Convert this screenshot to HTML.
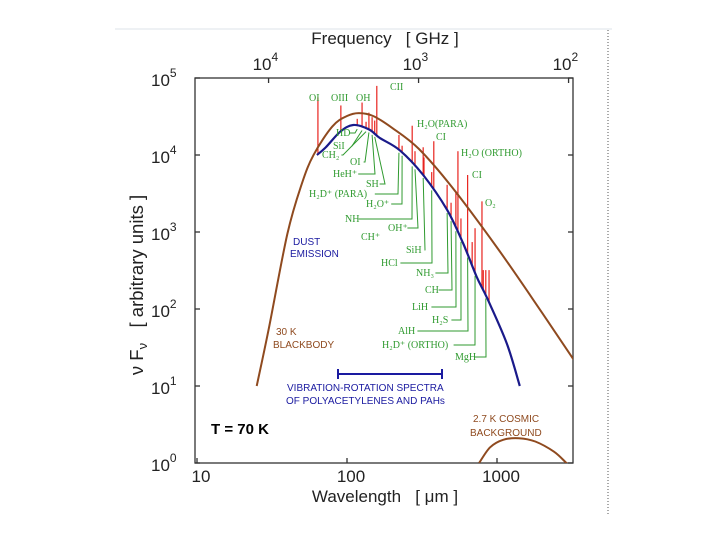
<!DOCTYPE html>
<html><head><meta charset="utf-8">
<style>
html,body{margin:0;padding:0;background:#fff;}
svg{display:block;}
text{font-family:"Liberation Sans",sans-serif;}
.g{fill:#2f9a2f;font-size:10px;font-family:"Liberation Serif",serif;}
.tk{font-size:17px;fill:#222;}
.sup{font-size:12px;}
</style></head>
<body>
<svg id="chart" width="720" height="540" viewBox="0 0 720 540" xmlns="http://www.w3.org/2000/svg">
<line x1="115" y1="29" x2="612" y2="29" stroke="#dde3e8" stroke-width="1"/>
<line x1="608" y1="30" x2="608" y2="515" stroke="#555" stroke-width="1" stroke-dasharray="1,2"/>
<g id="plot"></g>
<g id="labels"></g>
</svg>
<script>
// ---- data ----
const bbWave = [25, 30, 40, 50, 60, 80, 100, 120, 150, 200, 300, 500, 1000, 2000, 3240];
const bbValue = [10, 54, 940, 4230, 10100, 23600, 32100, 35000, 32000, 22500, 12100, 3850, 630, 89, 22];
const dustWave = [63, 72, 90, 110, 140, 166, 225, 322, 464, 593, 730, 860, 1160, 1420];
const dustValue = [10000, 12500, 20000, 24500, 21500, 16600, 11500, 5500, 1950, 720, 265, 138, 36, 10];
const cmbWave = [760, 900, 1100, 1400, 1800, 2400, 2900, 3240];
const cmbValue = [1.0, 1.6, 2.0, 2.1, 1.9, 1.4, 1.0, 0.8];
const lineWave = [64, 91, 117, 126, 134, 140, 147, 153, 158, 222, 233, 272, 284, 322, 326, 367, 379, 465, 494, 532, 549, 575, 637, 683, 714, 794, 810, 842, 885];
const lineTop = [56000, 44000, 29500, 48000, 27000, 35500, 31000, 28000, 79000, 18200, 13200, 24000, 11200, 12600, 9300, 6000, 15100, 4100, 2400, 3300, 11200, 1500, 5500, 740, 1120, 2500, 320, 320, 320];
const yTicks = [0, 1, 2, 3, 4, 5];
const xTicks = [10, 100, 1000];
const fTicks = [10000, 1000, 100]; // GHz

// ---- axes ----
const X0 = 195, X1 = 573, Y0 = 463, Y1 = 78;
const xs = l => 197 + 150 * (Math.log10(l) - 1);
const ys = v => Y0 - (Y0 - Y1) / 5 * Math.log10(v);
const NS = "http://www.w3.org/2000/svg";
const plot = document.getElementById('plot');
const lab = document.getElementById('labels');
function mk(tag, attrs, parent) {
  const e = document.createElementNS(NS, tag);
  for (const k in attrs) e.setAttribute(k, attrs[k]);
  parent.appendChild(e); return e;
}
function logInterp(wa, va, l) {
  for (let i = 0; i < wa.length - 1; i++) {
    if (l >= wa[i] && l <= wa[i + 1]) {
      const t = (Math.log(l) - Math.log(wa[i])) / (Math.log(wa[i + 1]) - Math.log(wa[i]));
      return Math.exp(Math.log(va[i]) + t * (Math.log(va[i + 1]) - Math.log(va[i])));
    }
  }
  return va[va.length - 1];
}
function smoothPath(wa, va) {
  const pts = wa.map((w, i) => [xs(w), ys(va[i])]);
  let d = 'M' + pts[0][0].toFixed(1) + ',' + pts[0][1].toFixed(1);
  for (let i = 0; i < pts.length - 1; i++) {
    const p0 = pts[i - 1] || pts[i], p1 = pts[i], p2 = pts[i + 1], p3 = pts[i + 2] || p2;
    const c1 = [p1[0] + (p2[0] - p0[0]) / 6, p1[1] + (p2[1] - p0[1]) / 6];
    const c2 = [p2[0] - (p3[0] - p1[0]) / 6, p2[1] - (p3[1] - p1[1]) / 6];
    d += 'C' + c1.map(v => v.toFixed(1)).join(',') + ' ' + c2.map(v => v.toFixed(1)).join(',') + ' ' + p2[0].toFixed(1) + ',' + p2[1].toFixed(1);
  }
  return d;
}

const defs = mk('defs', {}, plot);
const cp = mk('clipPath', {id: 'clip'}, defs);
mk('rect', {x: X0, y: Y1, width: X1 - X0, height: Y0 - Y1}, cp);

const frame = mk('rect', {x: X0, y: Y1, width: X1 - X0, height: Y0 - Y1, fill: 'none', stroke: '#333', 'stroke-width': 1.3}, plot);



yTicks.forEach(p => {
  const y = ys(Math.pow(10, p));
  const t1 = mk('line', {x1: X0, y1: y, x2: X0 + 5, y2: y, stroke: '#333', 'stroke-width': 1.3}, plot);
  
  
  const t2 = mk('line', {x1: X1 - 5, y1: y, x2: X1, y2: y, stroke: '#333', 'stroke-width': 1.3}, plot);
  
  
  const tx = mk('text', {x: 151, y: y + 8, class: 'tk'}, plot);
  
  
  tx.innerHTML = '10<tspan class="sup" dy="-9">' + p + '</tspan>';
});
xTicks.forEach(v => {
  const x = xs(v);
  const t = mk('line', {x1: x, y1: Y0 - 5, x2: x, y2: Y0, stroke: '#333', 'stroke-width': 1.3}, plot);
  
  
  const tx = mk('text', {x: x + 4, y: 482, class: 'tk', 'text-anchor': 'middle'}, plot);
  
  
  tx.textContent = v;
});
fTicks.forEach(f => {
  const x = xs(3e5 / f);
  const t = mk('line', {x1: x, y1: Y1, x2: x, y2: Y1 + 5, stroke: '#333', 'stroke-width': 1.3}, plot);
  
  
  const tx = mk('text', {x: x - 16, y: 70, class: 'tk'}, plot);
  
  
  tx.innerHTML = '10<tspan class="sup" dy="-9">' + Math.round(Math.log10(f)) + '</tspan>';
});

const cg = mk('g', {'clip-path': 'url(#clip)'}, plot);
lineWave.forEach((w, i) => {
  const base = logInterp(dustWave, dustValue, w);
  const l = mk('line', {x1: xs(w), x2: xs(w), y1: ys(base), y2: ys(lineTop[i]), stroke: '#e8231e', 'stroke-width': 1.2}, cg);
  
  
});
const bb = mk('path', {d: smoothPath(bbWave, bbValue), fill: 'none', stroke: '#8f4a1f', 'stroke-width': 2}, cg);


const du = mk('path', {d: smoothPath(dustWave, dustValue), fill: 'none', stroke: '#1a1a8a', 'stroke-width': 2.2}, cg);


const cm = mk('path', {d: smoothPath(cmbWave, cmbValue), fill: 'none', stroke: '#8f4a1f', 'stroke-width': 2}, cg);



const greens = [
 ['OI',309,101],['OIII',331,101],['OH',356,101],['CII',390,90],
 ['H₂O(PARA)',417,127],['CI',436,140],['H₂O (ORTHO)',461,156],['CI',472,178],['O₂',485,206]
];
greens.forEach(g => {
  const t = mk('text', {x: g[1], y: g[2], class: 'g'}, lab);
  
  
  t.textContent = g[0];
});
const leftG = [
 ['HD',336,136,355,117],['SiI',333,149,352,126],['CH₂',322,158,343,134],['OI',350,165,365,140],
 ['HeH⁺',333,177,375,147],['SH',366,187,385,153],['H₂D⁺ (PARA)',309,197,398,222],['H₂O⁺',366,207,402,233],
 ['NH',345,222,412,272],['CH⁺',361,240,0,0],['OH⁺',388,231,418,284],['SiH',406,253,425,322],['HCl',381,266,432,367],
 ['NH₃',416,276,448,465],['CH',425,293,452,494],['LiH',412,310,456,532],['H₂S',432,323,461,575],['AlH',398,334,468,637],
 ['H₂D⁺ (ORTHO)',382,348,475,714],['MgH',455,360,486,842]
];
leftG.forEach(g => {
  const t = mk('text', {x: g[1], y: g[2], class: 'g'}, lab);
  
  
  t.textContent = g[0];
  if (g[3]) {
    const tw = g[0].length * 5.8;
    const x0 = g[1] + tw + 2, yy = g[2] - 3;
    const xt = xs(g[4]);
    const yt = ys(logInterp(dustWave, dustValue, g[4])) + 3;
    const p = mk('polyline', {points: x0 + ',' + yy + ' ' + g[3] + ',' + yy + ' ' + xt + ',' + yt, fill: 'none', stroke: '#2f9a2f', 'stroke-width': 1}, lab);
    
    
  }
});
</script>
<svg style="position:absolute;left:0;top:0" width="720" height="540">
<text x="385" y="44" text-anchor="middle" style="font-family:'Liberation Sans',sans-serif;font-size:17px;fill:#222">Frequency &#160;&#160;[ GHz ]</text>
<text x="385" y="502" text-anchor="middle" style="font-family:'Liberation Sans',sans-serif;font-size:17px;fill:#222">Wavelength &#160;&#160;[ μm ]</text>
<text transform="translate(143,285) rotate(-90)" text-anchor="middle" style="font-family:'Liberation Sans',sans-serif;font-size:18.5px;fill:#222">ν F<tspan font-size="13" dy="4">ν</tspan><tspan dy="-4"> &#160;&#160;[ arbitrary units ]</tspan></text>
<g style="font-family:'Liberation Sans',sans-serif;font-size:10px;fill:#1a1aa0">
<text x="293" y="245">DUST</text>
<text x="290" y="257">EMISSION</text>
<text x="287" y="391">VIBRATION-ROTATION SPECTRA</text>
<text x="286" y="404">OF POLYACETYLENES AND PAHs</text>
</g>
<g style="font-family:'Liberation Sans',sans-serif;font-size:10px;fill:#8f4a1f">
<text x="276" y="335">30 K</text>
<text x="273" y="348">BLACKBODY</text>
<text x="473" y="422">2.7 K COSMIC</text>
<text x="470" y="436">BACKGROUND</text>
</g>
<line x1="338" y1="374" x2="442" y2="374" stroke="#1a1aa0" stroke-width="2"/>
<line x1="338" y1="369" x2="338" y2="379" stroke="#1a1aa0" stroke-width="2"/>
<line x1="442" y1="369" x2="442" y2="379" stroke="#1a1aa0" stroke-width="2"/>
<text x="211" y="434" style="font-family:'Liberation Sans',sans-serif;font-size:15px;font-weight:bold;fill:#000">T = 70 K</text>
</svg>
</body></html>
